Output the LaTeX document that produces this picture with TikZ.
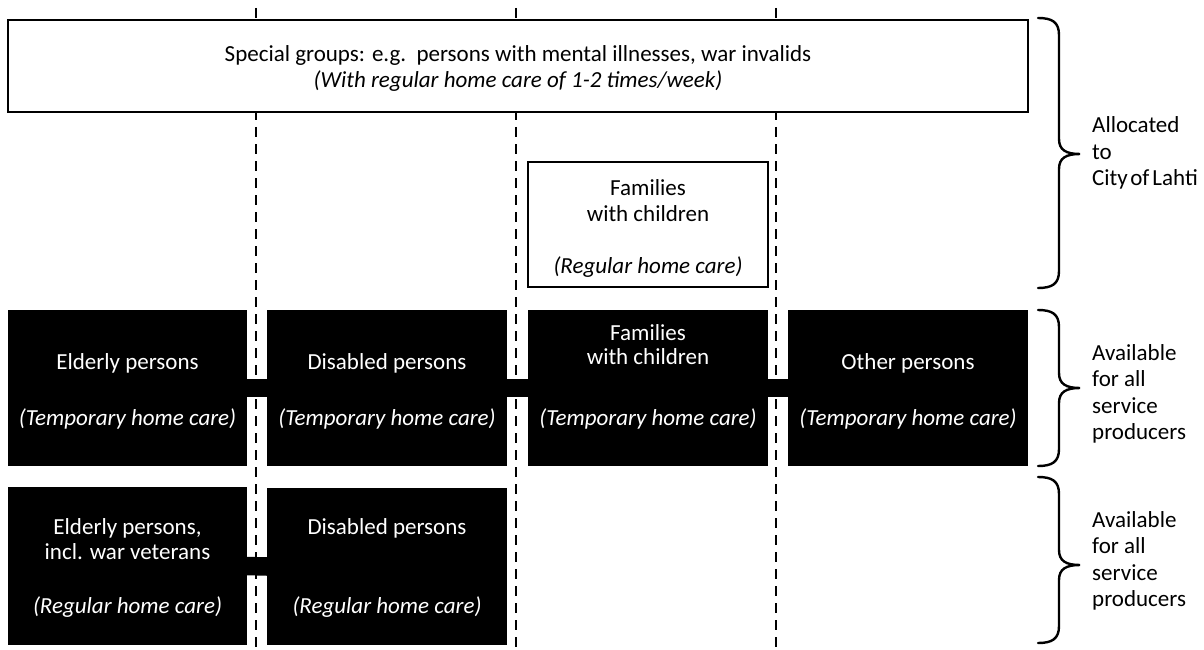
\documentclass[tikz,border=0pt]{standalone}
\usepackage{fontspec}
\setmainfont{Carlito}
\begin{document}
\begin{tikzpicture}[x=1pt,y=-1pt,
  blackbox/.style={fill=black,draw=none,anchor=north west,inner sep=0pt,outer sep=0pt},
  whitebox/.style={fill=white,draw=black,line width=1.2pt,anchor=north west,inner sep=0pt,outer sep=0pt},
  lbl/.style={anchor=base,inner sep=0pt,font=\fontsize{23}{26}\selectfont},
  wlbl/.style={lbl,text=white},
  sidelbl/.style={anchor=west,inner sep=0pt,align=left,font=\fontsize{23}{26.3}\selectfont},
  guide/.style={line width=2pt,dash pattern=on 10pt off 7pt},
  bar/.style={line width=18.5pt},
  bracepen/.style={line width=2.4pt,line cap=round}
]
\useasboundingbox (0,0) rectangle (1204,650);

% curly brace opening to the right: #1 top y, #2 tip y, #3 bottom y
\newcommand{\sidebrace}[3]{%
  \draw[bracepen] (1038,#1) .. controls (1052,#1) and (1059,#1+4) .. (1059,#1+17)
    -- (1059,#2-15) .. controls (1059,#2-4) and (1066,#2) .. (1080,#2)
    .. controls (1066,#2) and (1059,#2+4) .. (1059,#2+15)
    -- (1059,#3-17) .. controls (1059,#3-4) and (1052,#3) .. (1038,#3);}

% vertical dashed guides
\foreach \gx/\gn in {256/ga,516/gb,776/gc}{
  \coordinate (\gn top) at (\gx,8);
  \coordinate (\gn bot) at (\gx,650);
  \draw[guide] (\gn top) -- (\gn bot);
}

% top band
\node[whitebox,minimum width=1020pt,minimum height=92pt] (special) at (8,20) {};
\node[lbl] (specialA) at (518,62) {Special groups: e.g.\ \ persons with mental illnesses, war invalids};
\node[lbl] (specialB) at (518,88) {\itshape (With regular home care of 1-2 times/week)};

% families with children, regular care
\node[whitebox,minimum width=240pt,minimum height=125pt] (famreg) at (528,162) {};
\node[lbl] (famregA) at (648,195) {Families};
\node[lbl] (famregB) at (648,221) {with children};
\node[lbl] (famregC) at (648,273) {\itshape (Regular home care)};

% temporary home care row
\node[blackbox,minimum width=239pt,minimum height=156pt] (eldtmp) at (8,310) {};
\node[blackbox,minimum width=240pt,minimum height=156pt] (distmp) at (267,310) {};
\node[blackbox,minimum width=240pt,minimum height=156pt] (famtmp) at (528,310) {};
\node[blackbox,minimum width=240pt,minimum height=156pt] (othtmp) at (788,310) {};
\draw[bar] (eldtmp.east) -- (distmp.west);
\draw[bar] (distmp.east) -- (famtmp.west);
\draw[bar] (famtmp.east) -- (othtmp.west);

\node[wlbl] (eldtmpA) at (127.5,369) {Elderly persons};
\node[wlbl] (eldtmpB) at (127.5,425) {\itshape (Temporary home care)};
\node[wlbl] (distmpA) at (387,369) {Disabled persons};
\node[wlbl] (distmpB) at (387,425) {\itshape (Temporary home care)};
\node[wlbl] (famtmpA) at (648,340) {Families};
\node[wlbl] (famtmpB) at (648,364) {with children};
\node[wlbl] (famtmpC) at (648,425) {\itshape (Temporary home care)};
\node[wlbl] (othtmpA) at (908,369) {Other persons};
\node[wlbl] (othtmpB) at (908,425) {\itshape (Temporary home care)};

% regular home care row
\node[blackbox,minimum width=239pt,minimum height=158pt] (eldreg) at (8,487) {};
\node[blackbox,minimum width=240pt,minimum height=157pt] (disreg) at (267,488) {};
\draw[bar] (eldreg.east) -- (disreg.west);

\node[wlbl] (eldregA) at (127.5,534) {Elderly persons,};
\node[wlbl] (eldregB) at (127.5,559) {incl. war veterans};
\node[wlbl] (eldregC) at (127.5,613) {\itshape (Regular home care)};
\node[wlbl] (disregA) at (387,534) {Disabled persons};
\node[wlbl] (disregB) at (387,613) {\itshape (Regular home care)};

% braces with their captions
\sidebrace{18}{154}{288}
\sidebrace{310}{388}{466}
\sidebrace{477}{565}{643}

\node[sidelbl] (capA) at (1092,153) {Allocated\\to\\City\hspace{2.5pt}of\hspace{3pt}Lahti};
\node[sidelbl] (capB) at (1092,394) {Available\\for all\\service\\producers};
\node[sidelbl] (capC) at (1092,561) {Available\\for all\\service\\producers};
\end{tikzpicture}
\end{document}
